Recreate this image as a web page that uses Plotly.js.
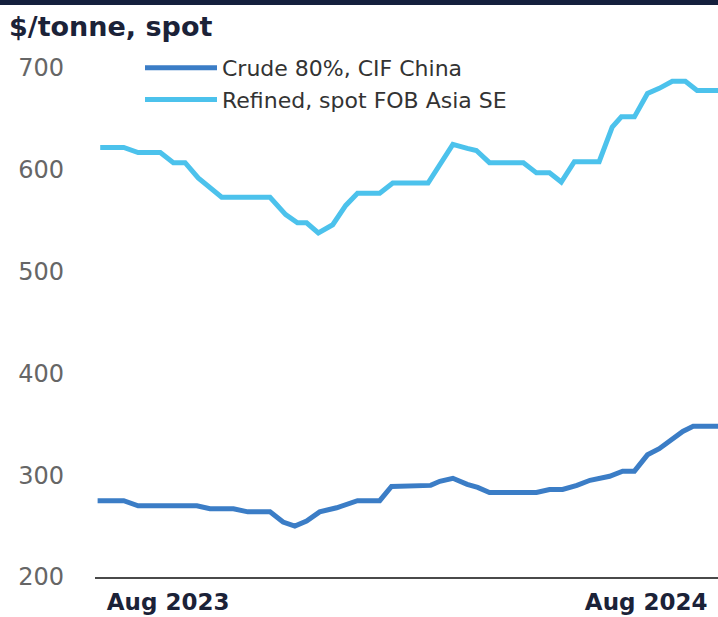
<!DOCTYPE html>
<html>
<head>
<meta charset="utf-8">
<script src="https://cdn.plot.ly/plotly-3.0.1.min.js"></script>
<style>
  html, body { margin: 0; padding: 0; background: #ffffff; }
  #wrap { position: relative; width: 718px; height: 617px; }
  #chart { width: 718px; height: 617px; }
  #topbar { position: absolute; left: 0; top: 0; width: 718px; height: 5px; background: #14203d; z-index: 10; }
</style>
</head>
<body>
<div id="wrap">
  <div id="chart"></div>
  <div id="topbar"></div>
</div>
<script>
// ---- Data ----
const refinedDates = [
  '2023-06-24','2023-07-12','2023-07-23','2023-08-09','2023-08-19','2023-08-28',
  '2023-09-07','2023-09-16','2023-09-25','2023-11-01','2023-11-13','2023-11-22',
  '2023-11-29','2023-12-08','2023-12-19','2023-12-29','2024-01-07','2024-01-24',
  '2024-02-03','2024-03-01','2024-03-20','2024-03-31','2024-04-07','2024-04-17',
  '2024-05-13','2024-05-23','2024-06-02','2024-06-11','2024-06-21','2024-07-10',
  '2024-07-20','2024-07-27','2024-08-06','2024-08-16','2024-08-25','2024-09-04',
  '2024-09-14','2024-09-23','2024-10-09'
];
const refinedValues = [
  622, 622, 617, 617, 607, 607,
  592, 582, 573, 573, 556, 548,
  548, 538, 546, 565, 577, 577,
  587, 587, 625, 621, 619, 607,
  607, 597, 597, 588, 608, 608,
  642, 652, 652, 675, 680, 687,
  687, 678, 678
];

const crudeDates = [
  '2023-06-22','2023-07-12','2023-07-23','2023-09-06','2023-09-16','2023-10-04',
  '2023-10-15','2023-11-01','2023-11-11','2023-11-20','2023-11-29','2023-12-09',
  '2023-12-22','2024-01-07','2024-01-24','2024-02-02','2024-03-03','2024-03-10',
  '2024-03-20','2024-03-31','2024-04-08','2024-04-17','2024-05-23','2024-06-02',
  '2024-06-12','2024-06-23','2024-07-03','2024-07-18','2024-07-28','2024-08-06',
  '2024-08-16','2024-08-25','2024-09-12','2024-09-20','2024-10-09'
];
const crudeValues = [
  275, 275, 270, 270, 267, 267,
  264, 264, 254, 250, 255, 264,
  268, 275, 275, 289, 290, 294,
  297, 291, 288, 283, 283, 286,
  286, 290, 295, 299, 304, 304,
  320, 326, 343, 348, 348
];

const seriesNames = ['Crude 80%, CIF China', 'Refined, spot FOB Asia SE'];
const xTickVals = ['2023-08-15', '2024-08-15'];
const xTickText = ['Aug 2023', 'Aug 2024'];
const yTickVals = [200, 300, 400, 500, 600, 700];
const yTickText = ['200', '300', '400', '500', '600', '700'];
const titleText = '$/tonne, spot';

// ---- Chart ----
const FONT = 'DejaVu Sans, Arial, sans-serif';
const W = 718, H = 617;
const M = { l: 95, r: 0, t: 40, b: 40 };
const plotW = W - M.l - M.r;
const plotH = H - M.t - M.b;

const traces = [
  {
    x: crudeDates, y: crudeValues, name: seriesNames[0],
    type: 'scatter', mode: 'lines',
    line: { color: '#3b7dc6', width: 5, shape: 'linear' },
    hoverinfo: 'skip'
  },
  {
    x: refinedDates, y: refinedValues, name: seriesNames[1],
    type: 'scatter', mode: 'lines',
    line: { color: '#4cc2ec', width: 5, shape: 'linear' },
    hoverinfo: 'skip'
  }
];

const layout = {
  width: W, height: H,
  margin: { l: M.l, r: M.r, t: M.t, b: M.b, pad: 0, autoexpand: false },
  paper_bgcolor: '#ffffff', plot_bgcolor: '#ffffff',
  font: { family: FONT, color: '#333333' },
  title: {
    text: '<b>' + titleText + '</b>',
    xref: 'container', yref: 'container',
    x: 9 / W, xanchor: 'left',
    y: 1 - 27 / H, yanchor: 'middle',
    font: { family: FONT, size: 27, color: '#1b2238' }
  },
  showlegend: true,
  legend: {
    xref: 'paper', yref: 'paper',
    x: (140 - M.l) / plotW, xanchor: 'left',
    y: (H - M.b - 47) / plotH, yanchor: 'top',
    bgcolor: 'rgba(255,255,255,0)',
    font: { family: FONT, size: 22, color: '#333333' },
    itemwidth: 72,
    tracegroupgap: 0,
    traceorder: 'normal'
  },
  xaxis: {
    type: 'date',
    range: ['2023-06-20', '2024-10-09'],
    tickmode: 'array', tickvals: xTickVals, ticktext: xTickText.map(t => '<b>' + t + '</b>'),
    ticks: '', showgrid: false, zeroline: false,
    showline: true, linecolor: '#4a4a4a', linewidth: 2,
    tickfont: { family: FONT, size: 23, color: '#1b2238' },
    ticklabelstandoff: 3,
    automargin: false,
    fixedrange: true
  },
  yaxis: {
    range: [200, 700 + (68 - M.t) / 1.018],
    tickmode: 'array', tickvals: yTickVals, ticktext: yTickText,
    ticks: '', showgrid: false, zeroline: false, showline: false,
    tickfont: { family: FONT, size: 24, color: '#666666' },
    ticklabelstandoff: 30,
    automargin: false,
    fixedrange: true
  }
};

Plotly.newPlot('chart', traces, layout, { staticPlot: true, displayModeBar: false });
</script>
</body>
</html>
